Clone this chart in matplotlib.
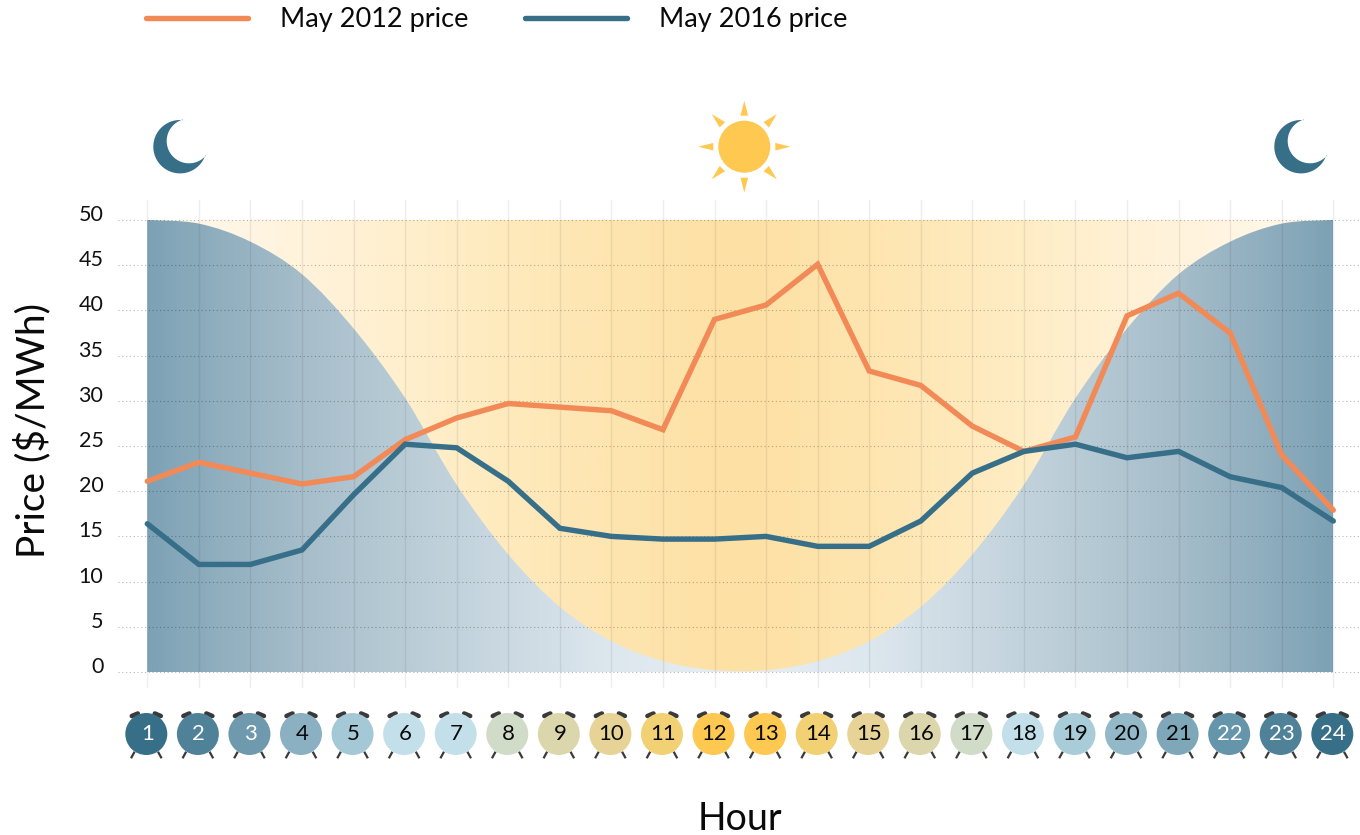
import numpy as np
import matplotlib
matplotlib.use("Agg")
import matplotlib.pyplot as plt
from matplotlib.colors import LinearSegmentedColormap
from matplotlib.path import Path
from matplotlib.patches import PathPatch, Circle, Polygon
from matplotlib.transforms import ScaledTranslation

plt.rcParams['font.family'] = ['Lato', 'DejaVu Sans']

hours = list(range(1, 25))
price_2012 = [21.1, 23.2, 22.0, 20.8, 21.6, 25.7, 28.1, 29.7, 29.3, 28.9, 26.8, 39.0,
              40.6, 45.1, 33.3, 31.7, 27.2, 24.4, 26.0, 39.4, 41.9, 37.5, 24.0, 17.9]
price_2016 = [16.4, 11.9, 11.9, 13.5, 19.6, 25.2, 24.8, 21.1, 15.9, 15.0, 14.7, 14.7,
              15.0, 13.9, 13.9, 16.7, 22.0, 24.4, 25.2, 23.7, 24.4, 21.6, 20.4, 16.7]
night_edge = [50, 49.6, 47.6, 44, 38, 30.3, 20.7, 13, 7.2, 3.4, 1.2, 0.2,
              0.2, 1.2, 3.4, 7.2, 13, 20.7, 30.3, 38, 44, 47.6, 49.6, 50]
y_ticks = [0, 5, 10, 15, 20, 25, 30, 35, 40, 45, 50]
clock_colors = ['#376f89', '#4f8199', '#6f9aae', '#8ab0c1', '#a5c8d6', '#c3e0ea',
                '#c3e0ea', '#d0dbc8', '#dcd6ac', '#e6d395', '#f2d175', '#fec851',
                '#fec851', '#f2d175', '#e6d395', '#dcd6ac', '#d0dbc8', '#c3e0ea',
                '#a9ccd9', '#93b9c9', '#7ea7ba', '#6595aa', '#4f8199', '#376f89']
white_label_hours = [1, 2, 3, 22, 23, 24]

W, H = 1360, 835
BLUE, ORANGE, SUN, DARK = '#376f89', '#f28a58', '#fec851', '#3a3a3a'

fig = plt.figure(figsize=(W / 100, H / 100), dpi=100, facecolor='white')

# Icon layer, in pixel coordinates
icons = fig.add_axes([0, 0, 1, 1], zorder=0)
icons.set_xlim(0, W)
icons.set_ylim(H, 0)
icons.axis('off')

# Main chart
left, right, top, bottom = 118, 1360, 200, 688
ax = fig.add_axes([left / W, 1 - bottom / H, (right - left) / W, (bottom - top) / H], zorder=1)
ax.patch.set_visible(False)
for s in ax.spines.values():
    s.set_visible(False)

yellow = LinearSegmentedColormap.from_list('y', [(0, '#fde0a3'), (0.217, '#fee5b0'), (0.39, '#feeabd'),
                                                 (0.565, '#ffefcd'), (0.74, '#fff3dc'), (1, '#fff9ee')])
blue = LinearSegmentedColormap.from_list('b', [(0, '#e8eef3'), (0.217, '#dde7ee'), (0.39, '#cbd9e2'),
                                               (0.565, '#b9ccd6'), (0.74, '#a6bdca'), (1, '#7da2b5')])
grad = np.abs(np.linspace(-1, 1, 512))[None, :]
ax.imshow(grad, cmap=yellow, extent=(1, 24, 0, 50), aspect='auto', vmin=0, vmax=1, zorder=0)
im = ax.imshow(grad, cmap=blue, extent=(1, 24, 0, 50), aspect='auto', vmin=0, vmax=1, zorder=0.5)

# Smooth boundary of the night region
xs = np.array(hours, float)
ys = np.array(night_edge, float)
pts = np.column_stack([xs, ys])
verts = [tuple(pts[0])]
codes = [Path.MOVETO]
for i in range(len(pts) - 1):
    p0 = pts[max(i - 1, 0)]
    p1 = pts[i]
    p2 = pts[i + 1]
    p3 = pts[min(i + 2, len(pts) - 1)]
    verts += [tuple(p1 + (p2 - p0) / 6), tuple(p2 - (p3 - p1) / 6), tuple(p2)]
    codes += [Path.CURVE4] * 3
verts += [(24, 0), (1, 0), (1, 50)]
codes += [Path.LINETO, Path.LINETO, Path.CLOSEPOLY]
clip = PathPatch(Path(verts, codes), transform=ax.transData, facecolor='none', edgecolor='none')
ax.add_patch(clip)
im.set_clip_path(clip)

l1, = ax.plot(hours, price_2012, color=ORANGE, lw=3.9, zorder=3, label='May 2012 price',
              solid_joinstyle='miter', solid_capstyle='round')
l2, = ax.plot(hours, price_2016, color=BLUE, lw=3.9, zorder=3, label='May 2016 price',
              solid_joinstyle='miter', solid_capstyle='round')

x0, px_x = 147.3, 51.565
y0, px_y = 672.0, 9.04
ax.set_xlim(1 + (left - x0) / px_x, 1 + (right - x0) / px_x)
ax.set_ylim((y0 - bottom) / px_y, (y0 - top) / px_y)

ax.set_yticks(y_ticks)
ax.set_yticklabels([str(v) for v in y_ticks], fontsize=15.5, color='#111111')
ax.set_xticks(hours)
ax.set_xticklabels([str(h) for h in hours], fontsize=16)
ax.tick_params(axis='both', length=0)
ax.tick_params(axis='y', pad=10.5)
ax.tick_params(axis='x', pad=33)
offset = ScaledTranslation(0, 7 / 100, fig.dpi_scale_trans)
for lab in ax.get_yticklabels():
    lab.set_transform(lab.get_transform() + offset)
for h, lab in zip(hours, ax.get_xticklabels()):
    lab.set_va('center')
    lab.set_color('white' if h in white_label_hours else '#0a0a0a')

ax.set_axisbelow(False)
ax.grid(axis='y', color='black', alpha=0.28, lw=0.8, ls=(0, (1, 2.4)))
ax.grid(axis='x', color='black', alpha=0.07, lw=1.0, ls='-')

fig.text(32 / W, 1 - 431 / H, 'Price ($/MWh)', rotation=90, fontsize=28, ha='center', va='center', color='#0a0a0a')
fig.text(740 / W, 1 - 819 / H, 'Hour', fontsize=27, ha='center', va='center', color='#0a0a0a')

leg = ax.legend(handles=[l1, l2], ncol=2, frameon=False, fontsize=19.5, loc='upper left',
                bbox_to_anchor=(146 / W, 1 - 7 / H), bbox_transform=fig.transFigure,
                borderaxespad=0, borderpad=0, handlelength=3.75, handletextpad=1.2, columnspacing=2.1)
for t in leg.get_texts():
    t.set_color('#0a0a0a')

# Clocks
fig.canvas.draw()
for h, c in zip(hours, clock_colors):
    cx = ax.transData.transform((h, 0))[0] - 1.0
    cy = 734
    for sign in (-1, 1):
        icons.plot([cx + sign * 14.5, cx + sign * 8.5], [cy - 18, cy - 20.5], color=DARK, lw=3.3,
                   solid_capstyle='round', zorder=1)
        icons.plot([cx + sign * 11.7, cx + sign * 15.3], [cy + 17.7, cy + 24.3], color=DARK, lw=1.6,
                   solid_capstyle='butt', zorder=1)
    icons.add_patch(Circle((cx, cy), 21, facecolor=c, edgecolor='none', zorder=2))

# Moons
def moon(shift):
    oc, orad = np.array([180.0, 146.7]), 26.7
    ic, irad = np.array([189.0, 141.0]), 22.3
    a1 = np.arctan2(119.9 - oc[1], 183 - oc[0])
    a2 = np.arctan2(155.2 - oc[1], 205.3 - oc[0])
    outer = np.linspace(a1, a2 - 2 * np.pi, 120)
    b2 = np.arctan2(155.2 - ic[1], 205.3 - ic[0])
    b1 = np.arctan2(119.9 - ic[1], 183 - ic[0])
    inner = np.linspace(b2, b2 + ((b1 - b2) % (2 * np.pi)), 120)
    pts_o = oc + orad * np.column_stack([np.cos(outer), np.sin(outer)])
    pts_i = ic + irad * np.column_stack([np.cos(inner), np.sin(inner)])
    poly = np.vstack([pts_o, pts_i]) + [shift, 0]
    icons.add_patch(Polygon(poly, closed=True, facecolor=BLUE, edgecolor='none'))

moon(0)
moon(1121)

# Sun
sx, sy = 744.3, 146.7
icons.add_patch(Circle((sx, sy), 26, facecolor=SUN, edgecolor='none'))
for k in range(8):
    a = k * np.pi / 4
    d = np.array([np.cos(a), np.sin(a)])
    n = np.array([-d[1], d[0]])
    c = np.array([sx, sy])
    icons.add_patch(Polygon([c + d * 46, c + d * 31 + n * 3.8, c + d * 31 - n * 3.8],
                            closed=True, facecolor=SUN, edgecolor='none'))

fig.savefig('out.png', dpi=100)
